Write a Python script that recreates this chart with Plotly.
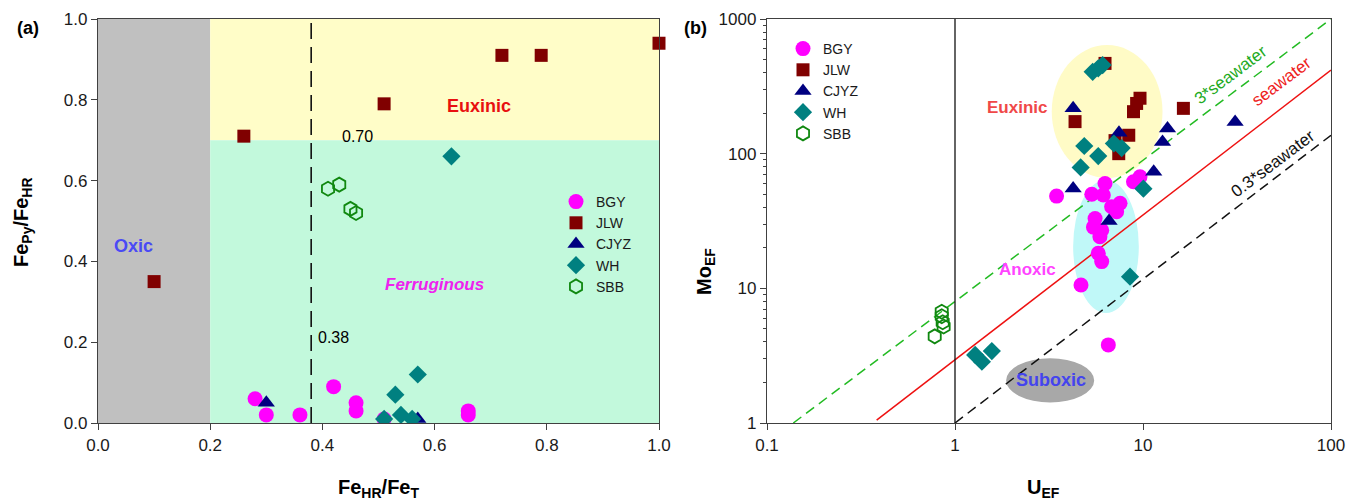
import numpy as np
import plotly.graph_objects as go

# ---------------- Panel (a) data: FeHR/FeT vs FePy/FeHR ----------------
a_bgy_x = [0.28, 0.30, 0.36, 0.42, 0.46, 0.46, 0.51, 0.66, 0.66]
a_bgy_y = [0.06, 0.02, 0.02, 0.09, 0.05, 0.03, 0.01, 0.03, 0.02]
a_jlw_x = [0.10, 0.26, 0.51, 0.72, 0.79, 1.00]
a_jlw_y = [0.35, 0.71, 0.79, 0.91, 0.91, 0.94]
a_cjyz_x = [0.30, 0.57]
a_cjyz_y = [0.05, 0.01]
a_wh_x = [0.63, 0.57, 0.53, 0.54, 0.51, 0.56]
a_wh_y = [0.66, 0.12, 0.07, 0.02, 0.01, 0.01]
a_sbb_x = [0.41, 0.43, 0.45, 0.46]
a_sbb_y = [0.58, 0.59, 0.53, 0.52]

# ---------------- Panel (b) data: U_EF vs Mo_EF ----------------
b_bgy_u = [3.47, 5.34, 6.28, 6.15, 8.9, 9.64, 6.81, 7.55, 7.24, 5.56, 5.45, 6.03, 5.9, 5.78, 6.03, 4.68, 6.54]
b_bgy_mo = [48.4, 50, 60, 49.3, 61.8, 67.4, 40.3, 42.8, 37, 33, 28.5, 27, 24.2, 18.2, 15.8, 10.6, 3.8]
b_jlw_u = [6.28, 9.64, 9.25, 8.9, 4.35, 16.4, 8.4, 7.43, 7.1]
b_jlw_mo = [468, 258, 236, 205, 173, 217, 137, 100, 125]
b_cjyz_u = [4.25, 7.45, 13.5, 12.7, 11.4, 4.25, 6.6, 30.9]
b_cjyz_mo = [217, 143, 154, 122, 73.4, 55.2, 31.6, 172]
b_wh_u = [5.4, 5.78, 6.1, 4.87, 5.78, 4.66, 7.0, 7.7, 10.05, 8.53, 1.28, 1.39, 1.57]
b_wh_mo = [405, 430, 455, 114, 96, 79, 119, 110, 55, 12.2, 3.2, 2.85, 3.42]
b_sbb_u = [0.85, 0.85, 0.86, 0.87, 0.78]
b_sbb_mo = [6.7, 6.2, 5.6, 5.2, 4.4]

# reference lines (endpoints)
sw3_u, sw3_mo = [0.138, 100], [1.0, 1000]
sw_u, sw_mo = [0.383, 100], [1.05, 417]
sw03_u, sw03_mo = [1.0, 100], [1.0, 137]

series = ["BGY", "JLW", "CJYZ", "WH", "SBB"]
colors = {"BGY": "#FF00FF", "JLW": "#800000", "CJYZ": "#000080", "WH": "#008080", "SBB": "#108810"}
symbols = {"BGY": "circle", "JLW": "square", "CJYZ": "triangle-up", "WH": "diamond", "SBB": "hexagon-open"}
sizes = {"BGY": 15, "JLW": 13, "CJYZ": 15, "WH": 14, "SBB": 14}

FONT = "Arial, Liberation Sans, sans-serif"
W, H = 1349, 504

fig = go.Figure()

a_data = {"BGY": (a_bgy_x, a_bgy_y), "JLW": (a_jlw_x, a_jlw_y), "CJYZ": (a_cjyz_x, a_cjyz_y),
          "WH": (a_wh_x, a_wh_y), "SBB": (a_sbb_x, a_sbb_y)}
b_data = {"BGY": (b_bgy_u, b_bgy_mo), "JLW": (b_jlw_u, b_jlw_mo), "CJYZ": (b_cjyz_u, b_cjyz_mo),
          "WH": (b_wh_u, b_wh_mo), "SBB": (b_sbb_u, b_sbb_mo)}

def marker(s):
    m = dict(symbol=symbols[s], size=sizes[s], color=colors[s])
    if s == "SBB":
        m["line"] = dict(color=colors[s], width=1.8)
    else:
        m["line"] = dict(width=0)
    return m

# lines in panel b
fig.add_trace(go.Scatter(x=sw3_u, y=sw3_mo, mode="lines", xaxis="x2", yaxis="y2", showlegend=False,
                         line=dict(color="#22BB22", width=1.5, dash="10px,6px"), hoverinfo="skip"))
fig.add_trace(go.Scatter(x=sw_u, y=sw_mo, mode="lines", xaxis="x2", yaxis="y2", showlegend=False,
                         line=dict(color="#EE1111", width=1.5), hoverinfo="skip"))
fig.add_trace(go.Scatter(x=sw03_u, y=sw03_mo, mode="lines", xaxis="x2", yaxis="y2", showlegend=False,
                         line=dict(color="#111111", width=1.5, dash="10px,6px"), hoverinfo="skip"))

for s in series:
    x, y = a_data[s]
    fig.add_trace(go.Scatter(x=x, y=y, mode="markers", name=s, xaxis="x", yaxis="y",
                             marker=marker(s), legend="legend", cliponaxis=(s != "JLW")))
for s in series:
    x, y = b_data[s]
    fig.add_trace(go.Scatter(x=x, y=y, mode="markers", name=s, xaxis="x2", yaxis="y2",
                             marker=marker(s), legend="legend2", cliponaxis=False))

def px_x(p):
    return p / W

def px_y(p):
    return 1 - p / H

xa_dom = [px_x(98), px_x(659)]
xb_dom = [px_x(767), px_x(1331)]
y_dom = [px_y(423), px_y(19)]

axis_common = dict(showgrid=False, zeroline=False, showline=True, linecolor="#404040", linewidth=1.3,
                   mirror=True, ticks="outside", ticklen=6, tickcolor="#404040", automargin=False,
                   tickfont=dict(family=FONT, size=17, color="#1a1a1a"))

shapes = [
    # panel a regions
    dict(type="rect", xref="x", yref="y", x0=0, x1=0.2, y0=0, y1=1, fillcolor="#C0C0C0", line_width=0, layer="below"),
    dict(type="rect", xref="x", yref="y", x0=0.2, x1=1, y0=0.7, y1=1, fillcolor="#FFFDC8", line_width=0, layer="below"),
    dict(type="rect", xref="x", yref="y", x0=0.2, x1=1, y0=0, y1=0.7, fillcolor="#C2F9DC", line_width=0, layer="below"),
    dict(type="line", xref="x", yref="y", x0=0.38, x1=0.38, y0=0, y1=1,
         line=dict(color="#111111", width=1.6, dash="16px,8px")),
    # panel b ellipses
    dict(type="circle", xref="x2", yref="y2", x0=4.25, x1=9.5, y0=6.56, y1=63.7, fillcolor="#C0F8F8",
         line_width=0, layer="below"),
    dict(type="circle", xref="x2", yref="y2", x0=3.27, x1=12.7, y0=65.9, y1=640, fillcolor="#FFFBC6",
         line_width=0, layer="below"),
    dict(type="circle", xref="x2", yref="y2", x0=1.87, x1=5.5, y0=1.42, y1=3.02, fillcolor="#A8A8A8",
         line_width=0, layer="below"),
    dict(type="line", xref="x2", yref="y2", x0=1, x1=1, y0=1, y1=1000, line=dict(color="#111111", width=1.3)),
]

ann = []
def add_text(text, x, y, xref, yref, size=15, color="#000", angle=0, xanchor="center", yanchor="middle"):
    ann.append(dict(text=text, x=x, y=y, xref=xref, yref=yref, showarrow=False, textangle=angle,
                    font=dict(family=FONT, size=size, color=color), xanchor=xanchor, yanchor=yanchor))

# panel a texts
add_text("0.70", 0.463, 0.71, "x", "y", size=16)
add_text("0.38", 0.419, 0.212, "x", "y", size=16)
add_text("<b>Euxinic</b>", 0.68, 0.785, "x", "y", size=18, color="#E81010")
add_text("<b><i>Ferruginous</i></b>", 0.60, 0.343, "x", "y", size=17, color="#EE22EE")
add_text("<b>Oxic</b>", 0.063, 0.437, "x", "y", size=18, color="#4A4AF5")

# panel b texts (log axes -> log10 coords)
add_text("<b>Euxinic</b>", 0.33, 2.346, "x2", "y2", size=17, color="#F04848")
add_text("<b>Anoxic</b>", 0.388, 1.143, "x2", "y2", size=17, color="#FF44FF")
add_text("<b>Suboxic</b>", 0.511, 0.319, "x2", "y2", size=18, color="#4444EE")
add_text("3*seawater", 1.463, 2.583, "x2", "y2", size=17, color="#22AA22", angle=-37)
add_text("seawater", 1.738, 2.534, "x2", "y2", size=17, color="#EE2020", angle=-37)
add_text("0.3*seawater", 1.693, 1.928, "x2", "y2", size=17, color="#111111", angle=-37)

# panel labels & axis titles
add_text("<b>(a)</b>", px_x(28), px_y(28), "paper", "paper", size=18)
add_text("<b>(b)</b>", px_x(695), px_y(28), "paper", "paper", size=18)
add_text("<b>Fe<sub>HR</sub>/Fe<sub>T</sub></b>", px_x(378), px_y(488), "paper", "paper", size=20)
add_text("<b>U<sub>EF</sub></b>", px_x(1043), px_y(488), "paper", "paper", size=20)
add_text("<b>Fe<sub>Py</sub>/Fe<sub>HR</sub></b>", px_x(22), px_y(222), "paper", "paper", size=20, angle=-90)
add_text("<b>Mo<sub>EF</sub></b>", px_x(705), px_y(272), "paper", "paper", size=20, angle=-90)

legend_common = dict(font=dict(family=FONT, size=14, color="#1a1a1a"), bgcolor="rgba(0,0,0,0)",
                     borderwidth=0, itemsizing="trace", tracegroupgap=0, yanchor="top", xanchor="left")

fig.update_layout(
    width=W, height=H, margin=dict(l=0, r=0, t=0, b=0, autoexpand=False),
    paper_bgcolor="white", plot_bgcolor="white",
    xaxis=dict(domain=xa_dom, range=[0, 1], tickvals=[0, 0.2, 0.4, 0.6, 0.8, 1.0], tickformat=".1f",
               anchor="y", **axis_common),
    yaxis=dict(domain=y_dom, range=[0, 1], tickvals=[0, 0.2, 0.4, 0.6, 0.8, 1.0], tickformat=".1f",
               anchor="x", **axis_common),
    xaxis2=dict(domain=xb_dom, type="log", range=[-1, 2], tickvals=[0.1, 1, 10, 100],
                ticktext=["0.1", "1", "10", "100"], anchor="y2", **axis_common),
    yaxis2=dict(domain=y_dom, type="log", range=[0, 3], tickvals=[1, 10, 100, 1000],
                ticktext=["1", "10", "100", "1000"], anchor="x2",
                minor=dict(ticks="outside", ticklen=3, tickcolor="#404040", dtick="D1"), **axis_common),
    legend=dict(x=px_x(556), y=px_y(186), **legend_common),
    legend2=dict(x=px_x(783), y=px_y(33), **legend_common),
    shapes=shapes, annotations=ann, showlegend=True,
)

fig.write_html("out.html", config={"displayModeBar": False},
               post_script="document.body.style.margin='0';document.body.style.overflow='hidden';")
